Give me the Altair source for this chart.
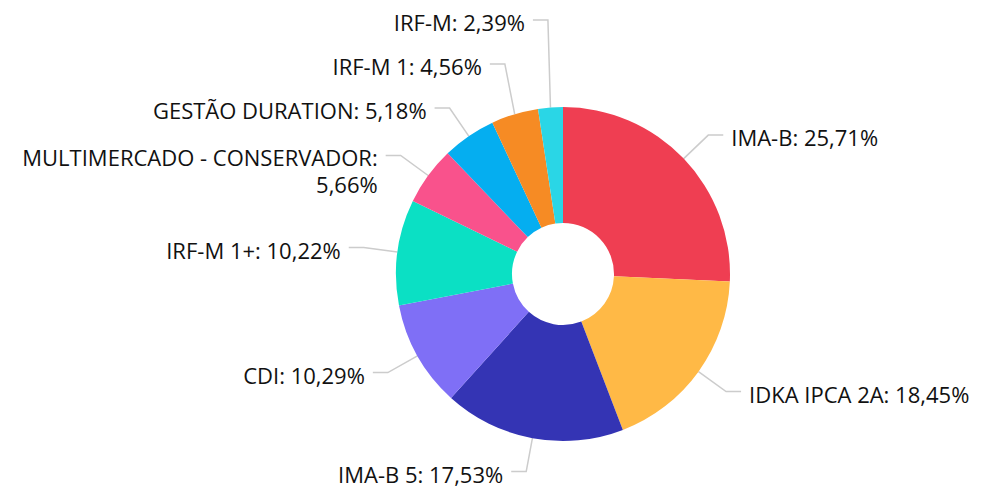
import math
import altair as alt
import pandas as pd

# ---- data ----
categories = ["IMA-B", "IDKA IPCA 2A", "IMA-B 5", "CDI", "IRF-M 1+",
              "MULTIMERCADO - CONSERVADOR", "GESTÃO DURATION", "IRF-M 1", "IRF-M"]
values = [25.71, 18.45, 17.53, 10.29, 10.22, 5.66, 5.18, 4.56, 2.39]
colors = ["#ef3e52", "#ffb946", "#3434b4", "#7f6ff6", "#0be0c4",
          "#f9528c", "#05aef0", "#f68b24", "#2ad6e6"]
label_breaks = {"MULTIMERCADO - CONSERVADOR": "MULTIMERCADO - CONSERVADOR:\n"}

# ---- layout / style ----
W, H = 967, 481
CX, CY = 555, 266          # pie centre inside the plot area
OUTER, INNER = 167, 51
LABEL_R = 201
HSEG, GAP = 15, 8
MIN_SPACING = 44
FONT = "Open Sans"
FONT_SIZE = 22

xs = alt.Scale(domain=[-CX, W - CX], nice=False, zero=False)
ys = alt.Scale(domain=[-(H - CY), CY], nice=False, zero=False)

total = sum(values)
pie_rows, line_rows, label_rows = [], [], []
cum = 0.0
for i, (name, v) in enumerate(zip(categories, values)):
    mid = (cum + v / 2) / total * 2 * math.pi
    cum += v
    pie_rows.append({"name": name, "value": v, "idx": i})
    txt = label_breaks.get(name, name + ": ") + f"{v:.2f}".replace(".", ",") + "%"
    label_rows.append({"name": name, "mid": mid, "text": txt,
                       "side": "right" if math.sin(mid) >= 0 else "left",
                       "ex": LABEL_R * math.sin(mid), "ey": LABEL_R * math.cos(mid)})

# simple collision avoidance per side (push upwards)
for side in ("left", "right"):
    rows = sorted([r for r in label_rows if r["side"] == side], key=lambda r: r["ey"])
    for a, b in zip(rows, rows[1:]):
        if b["ey"] - a["ey"] < MIN_SPACING:
            b["ey"] = a["ey"] + MIN_SPACING

for r in label_rows:
    sgn = 1 if r["side"] == "right" else -1
    pts = [(OUTER * math.sin(r["mid"]), OUTER * math.cos(r["mid"])),
           (r["ex"], r["ey"]),
           (r["ex"] + sgn * HSEG, r["ey"])]
    for k, (px, py) in enumerate(pts):
        line_rows.append({"name": r["name"], "pt": k, "px": px, "py": py})
    r["tx"] = r["ex"] + sgn * (HSEG + GAP)
    r["ty"] = r["ey"]

pie_df = pd.DataFrame(pie_rows)
line_df = pd.DataFrame(line_rows)
label_df = pd.DataFrame(label_rows)[["name", "text", "side", "tx", "ty"]]

pie = alt.Chart(pie_df).mark_arc(outerRadius=OUTER, innerRadius=INNER).encode(
    x=alt.X(datum=0, type="quantitative", scale=xs, axis=None),
    y=alt.Y(datum=0, type="quantitative", scale=ys, axis=None),
    theta=alt.Theta("value:Q", stack=True),
    order=alt.Order("idx:Q"),
    color=alt.Color("name:N", scale=alt.Scale(domain=categories, range=colors), legend=None),
)

lines = alt.Chart(line_df).mark_line(color="#cccccc", strokeWidth=1.5).encode(
    x=alt.X("px:Q", scale=xs, axis=None),
    y=alt.Y("py:Q", scale=ys, axis=None),
    detail="name:N",
    order="pt:Q",
)

def text_layer(side, align):
    return alt.Chart(label_df).transform_filter(
        alt.datum.side == side
    ).mark_text(align=align, baseline="middle", dy=4, font=FONT, fontSize=FONT_SIZE,
                color="#111111", lineBreak="\n", lineHeight=27).encode(
        x=alt.X("tx:Q", scale=xs, axis=None),
        y=alt.Y("ty:Q", scale=ys, axis=None),
        text="text:N",
    )

chart = alt.layer(lines, pie, text_layer("left", "right"), text_layer("right", "left")).properties(
    width=W, height=H, padding=0,
    autosize=alt.AutoSizeParams(type="none"),
).configure_view(stroke=None)

chart.save("out.html", embed_options={"renderer": "svg", "actions": False})
